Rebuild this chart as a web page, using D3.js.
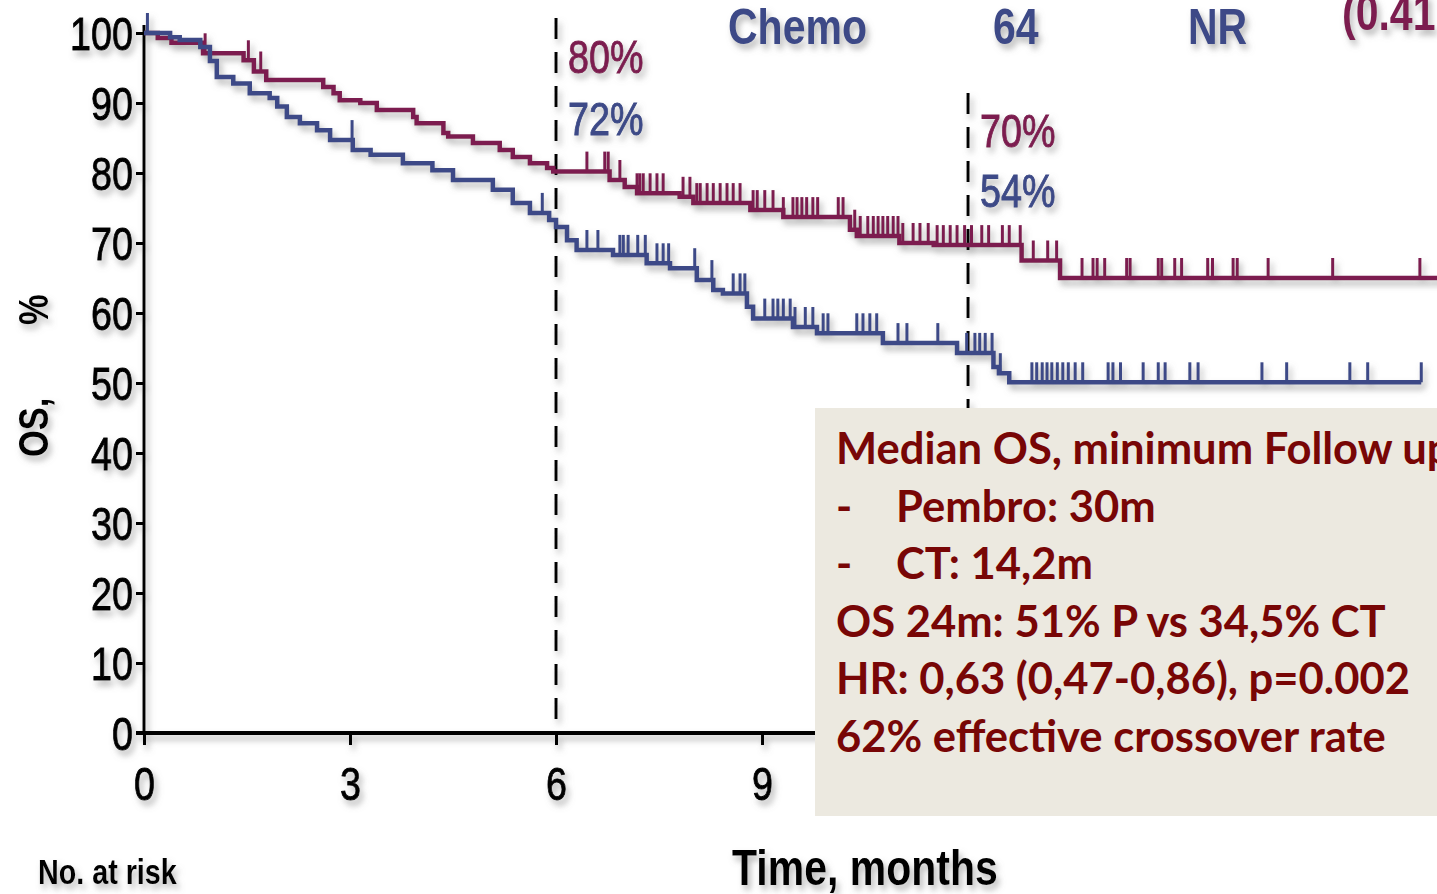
<!DOCTYPE html>
<html>
<head>
<meta charset="utf-8">
<script src="https://cdn.jsdelivr.net/npm/d3@7/dist/d3.min.js"></script>
<style>
  html, body { margin: 0; padding: 0; background: #fff; overflow: hidden; }
  svg { display: block; }
</style>
</head>
<body>
<div id="chart"></div>
<script>
// ---- data ----
const monthTicks = [0, 3, 6, 9, 12, 15, 18];
const osTicks = [0, 10, 20, 30, 40, 50, 60, 70, 80, 90, 100];

// Pembrolizumab arm (step points: time in months, OS %)
const pembroTime = [0, 0.2, 0.4, 0.86, 1.45, 1.6, 1.78, 2.61, 2.76, 2.85, 3.15, 3.39, 3.92, 3.97, 4.36, 4.43, 4.79,
  5.18, 5.37, 5.62, 5.87, 5.96, 6.78, 7.0, 7.18, 7.8, 8.0, 8.83, 9.31, 10.28, 10.38, 11.0, 11.5, 12.78, 13.34, 18.9];
const pembroOS = [100, 99.3, 98.6, 97.1, 96.1, 94.5, 93.3, 92.3, 91.4, 90.4, 90.0, 89.0, 88.0, 87.1, 85.7, 85.2, 84.3,
  83.3, 82.3, 81.4, 80.7, 80.2, 79.0, 78.0, 77.1, 76.6, 75.7, 74.7, 73.7, 71.9, 71.0, 70.0, 69.7, 67.5, 65.0, 65.0];
const pembroCensor = [0.89, 1.52, 1.70,
  6.45, 6.71, 6.76, 6.93, 7.18, 7.22, 7.27, 7.37, 7.47, 7.56, 7.85, 7.95, 8.05, 8.10, 8.20, 8.29, 8.39, 8.49, 8.58, 8.68,
  8.87, 8.93, 9.04, 9.16, 9.31, 9.45, 9.51, 9.58, 9.65, 9.74, 9.81, 10.11, 10.18, 10.35, 10.43, 10.54, 10.62, 10.69,
  10.76, 10.83, 10.91, 10.98, 11.05, 11.20, 11.30, 11.42, 11.55, 11.64, 11.74, 11.84,
  11.95, 12.05, 12.2, 12.3, 12.5, 12.6, 12.76, 12.95, 13.16, 13.29, 13.66, 13.82, 13.88, 13.99, 14.31, 14.36, 14.77,
  14.82, 15.01, 15.11, 15.49, 15.56, 15.86, 15.92, 16.37, 17.31, 18.58];

// Chemotherapy arm
const chemoTime = [0, 0.38, 0.52, 0.82, 0.96, 1.06, 1.3, 1.54, 1.83, 1.94, 2.08, 2.27, 2.52, 2.71, 3.04, 3.3, 3.77, 4.2,
  4.5, 5.08, 5.37, 5.62, 5.9, 6.0, 6.16, 6.3, 6.83, 7.32, 7.66, 8.05, 8.29, 8.43, 8.78, 8.87, 9.45, 9.8, 10.76, 11.84,
  12.37, 12.45, 12.6, 18.6];
const chemoOS = [100, 99.4, 99.0, 98.0, 96.0, 93.7, 92.8, 91.4, 90.7, 89.5, 88.0, 87.1, 86.1, 84.7, 83.3, 82.6, 81.4, 80.4,
  79.0, 77.6, 75.7, 74.3, 73.3, 72.3, 70.4, 69.0, 68.3, 67.1, 66.4, 64.7, 63.3, 62.8, 60.9, 59.2, 58.0, 57.1, 55.7, 54.3,
  52.3, 51.4, 50.1, 50.1];
const chemoCensor = [0.05, 3.03, 5.80, 6.45, 6.61, 6.93, 6.98, 7.05, 7.19, 7.30, 7.47, 7.56, 7.64, 8.02, 8.27, 8.58, 8.68,
  8.75, 9.04, 9.16, 9.23, 9.31, 9.41, 9.48, 9.63, 9.74, 9.89, 9.96, 10.38, 10.47, 10.57, 10.67, 10.98, 11.11, 11.56,
  11.98, 12.10, 12.17, 12.25, 12.35, 12.47, 12.93, 13.0, 13.08, 13.15, 13.22, 13.30, 13.38, 13.46, 13.56, 13.67, 14.04,
  14.11, 14.22, 14.55, 14.77, 14.87, 15.23, 15.35, 16.28, 16.64, 17.56, 17.82, 18.6];

const landmarkMonths = [6, 12];
const pembroLandmark = [80, 70];
const chemoLandmark = [72, 54];

const riskRow = ["Chemo", "64", "NR"];
const riskRowNext = "(0.41";

const boxLines = ["Median OS, minimum Follow up", "Pembro: 30m", "CT: 14,2m",
  "OS 24m: 51% P vs 34,5% CT", "HR: 0,63 (0,47-0,86), p=0.002", "62% effective crossover rate"];
const boxBullets = [false, true, true, false, false, false];

// ---- layout ----
const W = 1437, H = 894;
const col_pembro = "#7c1d4f";
const col_chemo = "#3c4a87";
const col_box_text = "#780606";
const sans = "'Liberation Sans', Arial, sans-serif";
const squeeze = 0.82;   // condensed look of the original axis font

const x = d3.scaleLinear().domain([0, 18]).range([144, 144 + 18 * 68.67]);
const y = d3.scaleLinear().domain([0, 100]).range([733, 33]);

// squeeze text horizontally about its own anchor point
function narrowize(sel) {
  sel.each(function () {
    const t = d3.select(this);
    const tx = +t.attr("x") || 0, ty = +t.attr("y") || 0;
    t.attr("transform", `translate(${tx},${ty}) scale(${squeeze},1)`).attr("x", 0).attr("y", 0);
  });
}
// the scanned original has slightly heavier strokes than a plain regular face
function thicken(sel, col) {
  sel.attr("stroke", col).attr("stroke-width", 0.9).attr("paint-order", "stroke");
}

const svg = d3.select("#chart").append("svg")
  .attr("width", W).attr("height", H)
  .attr("viewBox", `0 0 ${W} ${H}`)
  .attr("xmlns", "http://www.w3.org/2000/svg");

svg.append("rect").attr("width", W).attr("height", H).attr("fill", "#fff");

const filt = svg.append("defs").append("filter")
  .attr("id", "shade").attr("x", "-5%").attr("y", "-5%").attr("width", "115%").attr("height", "120%");
filt.append("feDropShadow")
  .attr("dx", 3).attr("dy", 5).attr("stdDeviation", 3)
  .attr("flood-color", "#7a7a7a").attr("flood-opacity", 0.55);

const plot = svg.append("g").attr("filter", "url(#shade)");

// y axis
const yAxis = plot.append("g")
  .attr("transform", `translate(${x(0)},0)`)
  .call(d3.axisLeft(y).tickValues(osTicks).tickSize(8).tickSizeOuter(0).tickPadding(3));
yAxis.select(".domain").attr("stroke", "#000").attr("stroke-width", 3)
  .attr("d", `M0,${y(0)}V${y(100) - 8}`);
yAxis.selectAll(".tick line").attr("stroke", "#000").attr("stroke-width", 3);
yAxis.selectAll(".tick text")
  .attr("font-family", sans).attr("font-size", 46).attr("fill", "#000")
  .attr("dy", "0.36em")
  .call(thicken, "#000")
  .call(narrowize);

// x axis
const xAxis = plot.append("g")
  .attr("transform", `translate(0,${y(0)})`)
  .call(d3.axisBottom(x).tickValues(monthTicks).tickSize(12).tickSizeOuter(0).tickPadding(22));
xAxis.select(".domain").attr("stroke", "#000").attr("stroke-width", 4)
  .attr("d", `M${x(0) - 8},0H${W}`);
xAxis.selectAll(".tick line").attr("stroke", "#000").attr("stroke-width", 3);
xAxis.selectAll(".tick text")
  .attr("font-family", sans).attr("font-size", 46).attr("fill", "#000")
  .call(thicken, "#000")
  .call(narrowize);

// landmark dashed lines
const dashTop = [18, 93];
plot.selectAll("line.landmark").data(landmarkMonths).enter().append("line")
  .attr("class", "landmark")
  .attr("x1", d => x(d)).attr("x2", d => x(d))
  .attr("y1", (d, i) => dashTop[i]).attr("y2", y(0) - 14)
  .attr("stroke", "#000").attr("stroke-width", 3).attr("stroke-dasharray", "21,13");

// survival curves
const step = d3.line().x(d => x(d[0])).y(d => y(d[1])).curve(d3.curveStepAfter);
const arms = [
  { t: pembroTime, s: pembroOS, c: pembroCensor, col: col_pembro },
  { t: chemoTime, s: chemoOS, c: chemoCensor, col: col_chemo }
];
function valueAt(arm, t) {
  const i = d3.bisectRight(arm.t, t) - 1;
  return arm.s[Math.max(0, i)];
}
arms.forEach(arm => {
  plot.append("path")
    .datum(d3.zip(arm.t, arm.s))
    .attr("fill", "none").attr("stroke", arm.col).attr("stroke-width", 4.5)
    .attr("d", step);
  plot.append("g").selectAll("line").data(arm.c).enter().append("line")
    .attr("x1", d => x(d)).attr("x2", d => x(d))
    .attr("y1", d => y(valueAt(arm, d)))
    .attr("y2", d => y(valueAt(arm, d)) - 20)
    .attr("stroke", arm.col).attr("stroke-width", 3);
});

// landmark percent labels
const lab = plot.append("g").attr("font-family", sans).attr("font-size", 46);
lab.selectAll("text.p").data(landmarkMonths).enter().append("text")
  .attr("x", d => x(d) + 12)
  .attr("y", (d, i) => i === 0 ? 73 : 147)
  .attr("fill", col_pembro)
  .text((d, i) => pembroLandmark[i] + "%")
  .call(thicken, col_pembro)
  .call(narrowize);
lab.selectAll("text.c").data(landmarkMonths).enter().append("text")
  .attr("x", d => x(d) + 12)
  .attr("y", (d, i) => i === 0 ? 135 : 207)
  .attr("fill", col_chemo)
  .text((d, i) => chemoLandmark[i] + "%")
  .call(thicken, col_chemo)
  .call(narrowize);

// partial table row at top
const rowX = [728, 993, 1188];
plot.append("g").selectAll("text").data(riskRow).enter().append("text")
  .attr("x", (d, i) => rowX[i]).attr("y", 44)
  .attr("font-family", sans).attr("font-size", 50).attr("font-weight", "bold")
  .attr("fill", col_chemo).text(d => d)
  .call(narrowize);
plot.append("text").attr("x", 1342).attr("y", 30)
  .attr("font-family", sans).attr("font-size", 50).attr("font-weight", "bold")
  .attr("fill", col_pembro).text(riskRowNext)
  .call(narrowize);

// axis titles
const ylab = plot.append("g").attr("transform", `translate(48,457) rotate(-90) scale(${squeeze},1)`)
  .attr("font-family", sans).attr("font-size", 42).attr("font-weight", "bold");
ylab.append("text").attr("x", 0).attr("y", 0).text("OS,");
ylab.append("text").attr("x", 132 / squeeze).attr("y", 0).text("%");

plot.append("text").attr("x", 732).attr("y", 885)
  .attr("font-family", sans).attr("font-size", 50).attr("font-weight", "bold")
  .text("Time, months")
  .call(narrowize);
plot.append("text").attr("x", 38).attr("y", 884)
  .attr("font-family", sans).attr("font-size", 35).attr("font-weight", "bold")
  .text("No. at risk")
  .call(narrowize);

// summary box
svg.append("rect").attr("x", 815).attr("y", 408).attr("width", W - 815).attr("height", 408)
  .attr("fill", "#ece9e0");
const box = svg.append("g").attr("font-family", "Lato, 'Open Sans', sans-serif")
  .attr("font-weight", "bold").attr("font-size", 44).attr("fill", col_box_text);
const probe = box.append("text").text(boxLines[4]);
const k = 574 / probe.node().getComputedTextLength();
probe.remove();
const inner = box.append("g").attr("transform", `translate(836,0) scale(${k},1)`);
boxLines.forEach((line, i) => {
  const by = 464 + i * 57.6;
  if (boxBullets[i]) {
    inner.append("text").attr("x", 0).attr("y", by).text("-");
    inner.append("text").attr("x", 60 / k).attr("y", by).text(line);
  } else {
    inner.append("text").attr("x", 0).attr("y", by).text(line);
  }
});
</script>
</body>
</html>
